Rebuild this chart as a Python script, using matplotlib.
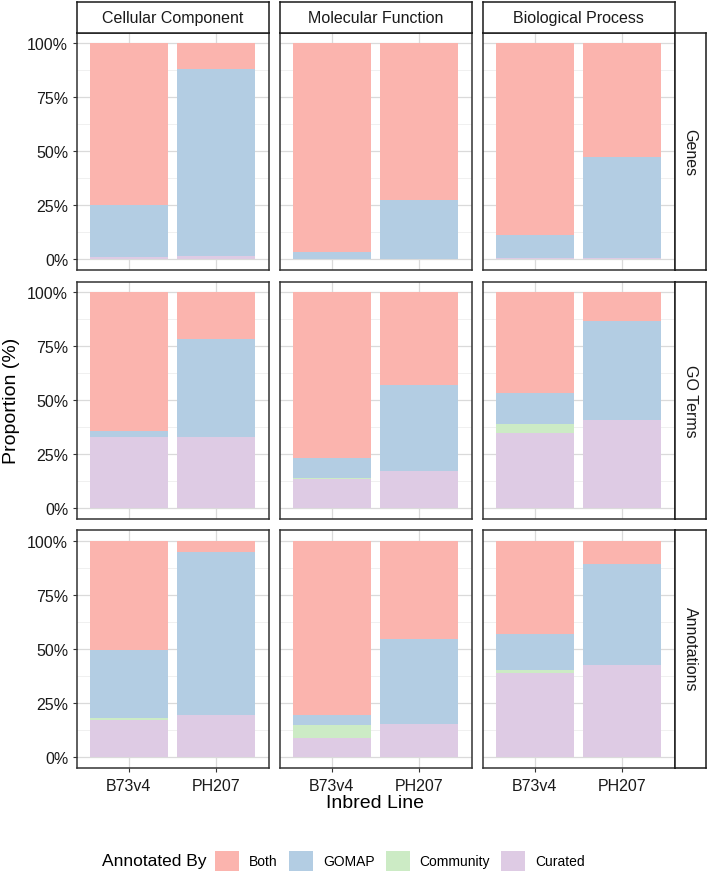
import matplotlib
matplotlib.use('Agg')
import matplotlib.pyplot as plt
from matplotlib.patches import Patch
import numpy as np

plt.rcParams['font.family'] = ['Liberation Sans', 'DejaVu Sans']

# facets
row_labels = ['Genes', 'GO Terms', 'Annotations']
col_labels = ['Cellular Component', 'Molecular Function', 'Biological Process']
lines = ['B73v4', 'PH207']

# proportions (%) per facet: [row][col][line]
curated = [
    [[0.8, 1.7], [0.2, 0.1], [0.5, 0.5]],
    [[33.0, 33.0], [13.4, 17.3], [35.0, 40.9]],
    [[16.9, 19.2], [8.8, 15.2], [38.9, 42.3]],
]
community = [
    [[0.0, 0.0], [0.0, 0.0], [0.0, 0.0]],
    [[0.0, 0.0], [0.6, 0.0], [3.9, 0.0]],
    [[0.8, 0.0], [5.7, 0.0], [1.3, 0.0]],
]
gomap = [
    [[24.4, 86.3], [3.0, 27.1], [10.5, 46.8]],
    [[2.9, 45.4], [9.1, 39.8], [14.6, 45.7]],
    [[31.7, 75.6], [4.7, 39.4], [16.6, 46.9]],
]
both = [
    [[74.8, 12.0], [96.8, 72.8], [89.0, 52.7]],
    [[64.1, 21.6], [76.9, 42.9], [46.5, 13.4]],
    [[50.6, 5.2], [80.8, 45.4], [43.2, 10.8]],
]

colors = {'Both': '#FBB4AE', 'GOMAP': '#B3CDE3', 'Community': '#CCEBC5', 'Curated': '#DECBE4'}

W, H = 708, 878
fig = plt.figure(figsize=(W / 100, H / 100), dpi=100)

col_left = [76.5, 279.5, 482.5]
col_w = 192.0
row_top = [33.5, 282.5, 531.0]
row_h = 237.5
border = '#333333'


def fig_rect(x, y, w, h):
    return [x / W, 1 - (y + h) / H, w / W, h / H]


x = np.arange(len(lines))
for r in range(3):
    for c in range(3):
        ax = fig.add_axes(fig_rect(col_left[c], row_top[r], col_w, row_h))
        ax.set_axisbelow(True)
        bottom = np.zeros(len(lines))
        for name, data in [('Curated', curated), ('Community', community),
                           ('GOMAP', gomap), ('Both', both)]:
            vals = np.array(data[r][c])
            ax.bar(x, vals, width=0.9, bottom=bottom, color=colors[name],
                   linewidth=0, zorder=2)
            bottom += vals
        ax.set_xlim(-0.6, 1.6)
        ax.set_ylim(-5, 105)
        ax.set_xticks(x)
        ax.set_yticks([0, 25, 50, 75, 100])
        ax.set_yticks([12.5, 37.5, 62.5, 87.5], minor=True)
        ax.grid(which='major', color='#DADADA', linewidth=0.9)
        ax.grid(which='minor', axis='y', color='#EEEEEE', linewidth=0.6)
        ax.tick_params(which='minor', length=0)
        ax.tick_params(which='major', length=3, width=0.8, color=border,
                       labelsize=11.5, labelcolor='#1A1A1A', pad=3)
        for s in ax.spines.values():
            s.set_color(border)
            s.set_linewidth(1.1)
        if c == 0:
            ax.set_yticklabels(['0%', '25%', '50%', '75%', '100%'])
        else:
            ax.tick_params(axis='y', left=False, labelleft=False)
        if r == 2:
            ax.set_xticklabels(lines)
            ax.tick_params(axis='x', pad=4.5)
        else:
            ax.tick_params(axis='x', bottom=False, labelbottom=False)

        # top strips
        if r == 0:
            sa = fig.add_axes(fig_rect(col_left[c], 3.0, col_w, row_top[0] - 3.0))
            sa.set_xticks([])
            sa.set_yticks([])
            sa.set_facecolor('white')
            for s in sa.spines.values():
                s.set_color('#1A1A1A')
                s.set_linewidth(1.1)
            sa.text(0.5, 0.5, col_labels[c], ha='center', va='center',
                    fontsize=11.5, color='#1A1A1A', transform=sa.transAxes)
    # right strips
    sa = fig.add_axes(fig_rect(674.5, row_top[r], 31.0, row_h))
    sa.set_xticks([])
    sa.set_yticks([])
    sa.set_facecolor('white')
    for s in sa.spines.values():
        s.set_color('#1A1A1A')
        s.set_linewidth(1.1)
    sa.text(0.5, 0.5, row_labels[r], ha='center', va='center', rotation=270,
            fontsize=11.5, color='#1A1A1A', transform=sa.transAxes)

# axis titles
fig.text(12 / W, 1 - 401 / H, 'Proportion (%)', rotation=90, ha='center',
         va='center', fontsize=14)
fig.text(375 / W, 1 - 804 / H, 'Inbred Line', ha='center', va='center',
         fontsize=14)

# legend
fig.text(102 / W, 1 - 862 / H, 'Annotated By', ha='left', va='center',
         fontsize=12.5)
handles = [Patch(facecolor=colors[k], edgecolor='none', label=k)
           for k in ['Both', 'GOMAP', 'Community', 'Curated']]
fig.legend(handles=handles, ncol=4, loc='center left',
           bbox_to_anchor=(215 / W, 1 - 862 / H), frameon=False,
           fontsize=10, handlelength=1.75, handleheight=1.9,
           handletextpad=0.7, columnspacing=0.8, borderpad=0,
           borderaxespad=0)

fig.savefig('out.png', dpi=100)
